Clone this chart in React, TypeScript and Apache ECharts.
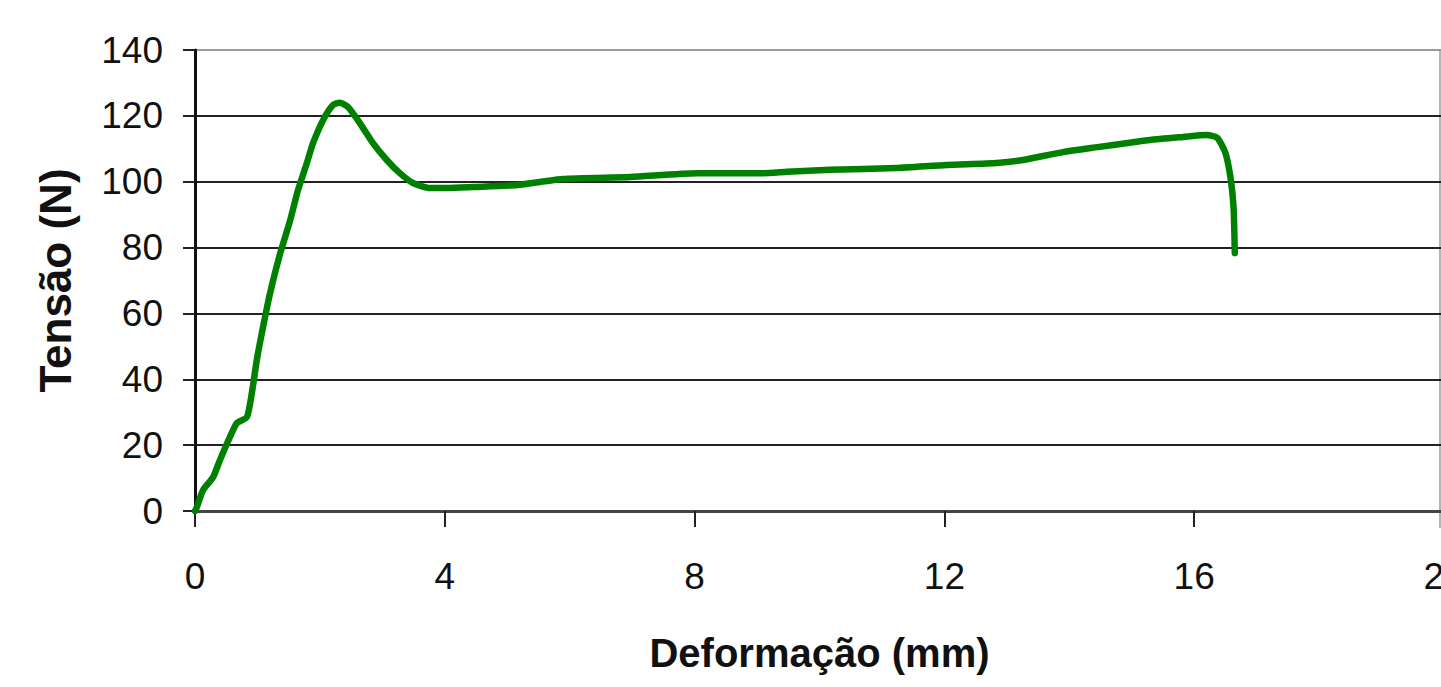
import React, { useEffect, useRef } from "react";
import * as echarts from "echarts";

const deformacao = [
  0, 0.03, 0.13, 0.29, 0.4, 0.56, 0.67, 0.83, 0.91, 0.99, 1.09, 1.2, 1.36, 1.52, 1.65, 1.79,
  1.89, 2.05, 2.21, 2.32, 2.45, 2.64, 2.85, 3.07, 3.28, 3.49, 3.76, 4.03, 4.45, 5.16, 5.89,
  6.97, 8.04, 9.1, 9.48, 10.17, 11.24, 12.04, 12.84, 13.26, 13.9, 14.45, 15.02, 15.29, 15.82,
  16.2, 16.37, 16.5, 16.58, 16.63, 16.65,
];
const tensao = [
  0, 1.2, 6.4, 10.3, 15.5, 22.5, 26.7, 28.5, 35.8, 45.9, 55.9, 66, 78, 88, 97.5, 105.6,
  111.7, 118.7, 123.3, 124, 122.7, 117.8, 111.7, 106.6, 102.6, 99.6, 98.1, 98.1, 98.4, 99,
  100.8, 101.4, 102.6, 102.6, 103, 103.6, 104.2, 105.1, 105.7, 106.6, 109, 110.5, 112, 112.7,
  113.6, 114.2, 113.3, 108.7, 101.4, 92.3, 78.3,
];
const xTicks = [0, 4, 8, 12, 16, 20];
const yTicks = [0, 20, 40, 60, 80, 100, 120, 140];
const xTitle = "Deformação (mm)";
const yTitle = "Tensão (N)";

export default function App() {
  const ref = useRef<HTMLDivElement>(null);
  useEffect(() => {
    if (!ref.current) return;
    const chart = echarts.init(ref.current, null, { renderer: "svg" });
    const font = "'Liberation Sans', Arial, Helvetica, sans-serif";
    chart.setOption({
      animation: false,
      backgroundColor: "#ffffff",
      textStyle: { fontFamily: font },
      grid: { left: 195, top: 50, bottom: 176, right: 36, containLabel: false },
      xAxis: {
        type: "value",
        min: xTicks[0],
        max: xTicks[xTicks.length - 1],
        interval: 4,
        name: xTitle,
        nameLocation: "middle",
        nameGap: 122,
        nameTextStyle: { fontSize: 40, fontWeight: "bold", color: "#111", fontFamily: font },
        axisLine: { show: true, lineStyle: { color: "#444", width: 3 } },
        axisTick: { show: true, inside: false, length: 16, lineStyle: { color: "#222", width: 2 } },
        axisLabel: { fontSize: 37, color: "#111", margin: 47, fontFamily: font },
        splitLine: { show: false },
      },
      yAxis: {
        type: "value",
        min: yTicks[0],
        max: yTicks[yTicks.length - 1],
        interval: 20,
        name: yTitle,
        nameLocation: "middle",
        nameGap: 118,
        nameTextStyle: { fontSize: 44, fontWeight: "bold", color: "#111", fontFamily: font },
        axisLine: { show: true, lineStyle: { color: "#111", width: 3 } },
        axisTick: { show: true, inside: false, length: 12, lineStyle: { color: "#222", width: 2 } },
        axisLabel: { fontSize: 37, color: "#111", margin: 32, fontFamily: font },
        splitLine: {
          show: true,
          lineStyle: {
            color: ["#222", "#222", "#222", "#222", "#222", "#222", "#222", "#9a9a9a"],
            width: 2,
          },
        },
      },
      graphic: [
        {
          type: "line",
          shape: { x1: 1440, y1: 49, x2: 1440, y2: 528 },
          style: { stroke: "#b5b5b5", lineWidth: 2 },
          silent: true,
        },
      ],
      series: [
        {
          type: "line",
          data: deformacao.map((x, i) => [x, tensao[i]]),
          showSymbol: false,
          symbol: "none",
          smooth: 0.2,
          lineStyle: { color: "#008000", width: 6.5, cap: "round", join: "round" },
          z: 5,
        },
      ],
    });
    return () => chart.dispose();
  }, []);
  return (
    <div
      style={{ position: "fixed", left: 0, top: 0, width: 1441, height: 687, overflow: "hidden", background: "#fff" }}
    >
      <div ref={ref} style={{ width: 1480, height: 687 }} />
    </div>
  );
}
